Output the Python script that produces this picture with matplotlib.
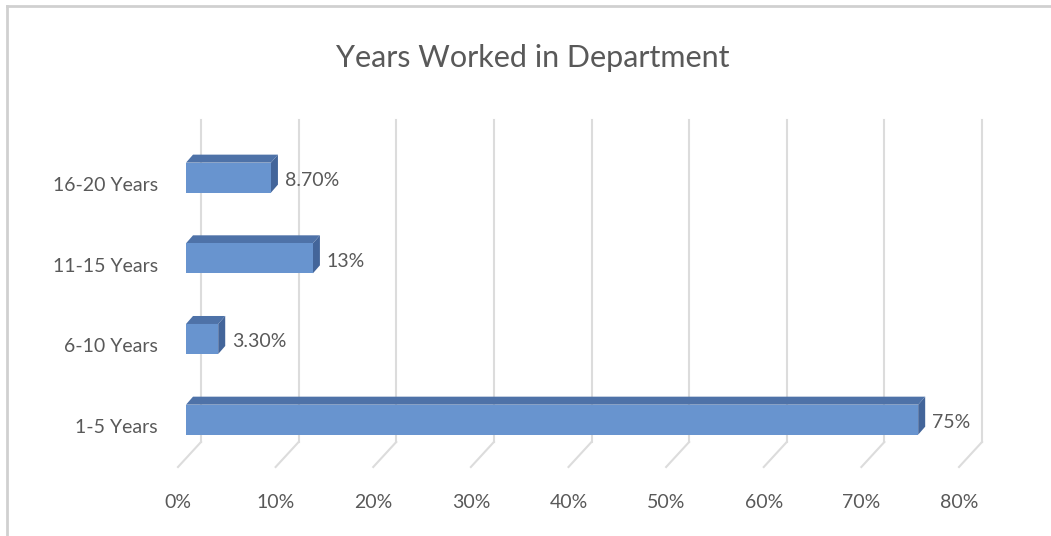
import matplotlib
matplotlib.use("Agg")
import matplotlib.pyplot as plt
from matplotlib.patches import Polygon
from matplotlib.lines import Line2D

# ---- data ----
categories = ["1-5 Years", "6-10 Years", "11-15 Years", "16-20 Years"]
values = [75, 3.3, 13, 8.7]
value_labels = ["75%", "3.30%", "13%", "8.70%"]
ticks = [0, 10, 20, 30, 40, 50, 60, 70, 80]
tick_labels = ["0%", "10%", "20%", "30%", "40%", "50%", "60%", "70%", "80%"]
title = "Years Worked in Department"

W, H = 1051, 536
fig = plt.figure(figsize=(W / 100, H / 100), dpi=100)
fig.patch.set_facecolor("white")

FONT = "Lato"
TXT = "#595959"

# front plane axes (pixel layout)
ax_left, ax_right = 186, 967
ax_top, ax_bot = 137.3, 460
ax = fig.add_axes([ax_left / W, 1 - ax_bot / H, (ax_right - ax_left) / W, (ax_bot - ax_top) / H])
ax.set_xlim(0, 80)
ax.set_ylim(-0.5, 3.5)
ax.axis("off")

sx = (ax_right - ax_left) / 80.0     # px per x unit
sy = (ax_bot - ax_top) / 4.0         # px per y unit

def ypx(py):
    return -0.5 + (ax_bot - py) / sy

# ---- 3D wall gridlines ----
grid_c = "#dcdcdc"
for t in ticks:
    xb = t + 15 / sx
    xf = t - 8 / sx
    ax.add_line(Line2D([xb, xb], [ypx(120), ypx(442)], color=grid_c, lw=1.5,
                       clip_on=False, zorder=1))
    ax.add_line(Line2D([xb, xf], [ypx(442), ypx(467)], color=grid_c, lw=1.5,
                       clip_on=False, zorder=1))

# ---- 3D bars ----
h = 30 / sy
dx = 7 / sx
dy = 8 / sy
front_c = "#6894cf"
top_c = "#4e72a8"
side_c = "#43659a"
for i, v in enumerate(values):
    y0, y1 = i - h / 2, i + h / 2
    front = Polygon([(0, y0), (v, y0), (v, y1), (0, y1)], closed=True,
                    facecolor=front_c, edgecolor="none", zorder=3, clip_on=False)
    top = Polygon([(0, y1), (v, y1), (v + dx, y1 + dy), (dx, y1 + dy)], closed=True,
                  facecolor=top_c, edgecolor="none", zorder=3, clip_on=False)
    side = Polygon([(v, y0), (v, y1), (v + dx, y1 + dy), (v + dx, y0 + dy)], closed=True,
                   facecolor=side_c, edgecolor="none", zorder=3, clip_on=False)
    for p in (side, top, front):
        ax.add_patch(p)
    ax.annotate(value_labels[i], xy=(v, i), xytext=(14, -3), textcoords="offset pixels",
                ha="left", va="center", fontsize=14, color=TXT, family=FONT,
                annotation_clip=False)
    ax.annotate(categories[i], xy=(0, i), xytext=(-28, -8), textcoords="offset pixels",
                ha="right", va="center", fontsize=14, color=TXT, family=FONT,
                annotation_clip=False)

# ---- x tick labels ----
for t, lab in zip(ticks, tick_labels):
    ax.annotate(lab, xy=(t, -0.5), xytext=(-8, -42), textcoords="offset pixels",
                ha="center", va="center", fontsize=14, color=TXT, family=FONT,
                annotation_clip=False)

# ---- title ----
fig.text(533 / W, 1 - 58 / H, title, ha="center", va="center", fontsize=22,
         color=TXT, family=FONT)

# ---- chart border (partial, as in the screenshot) ----
bc = "#d0d0d0"
fig.add_artist(Line2D([7 / W, 1.0], [1 - 6 / H, 1 - 6 / H], color=bc, lw=2,
                      transform=fig.transFigure))
fig.add_artist(Line2D([7 / W, 7 / W], [1 - 6 / H, 0.0], color=bc, lw=2,
                      transform=fig.transFigure))

fig.savefig("out.png", dpi=100, facecolor="white")
